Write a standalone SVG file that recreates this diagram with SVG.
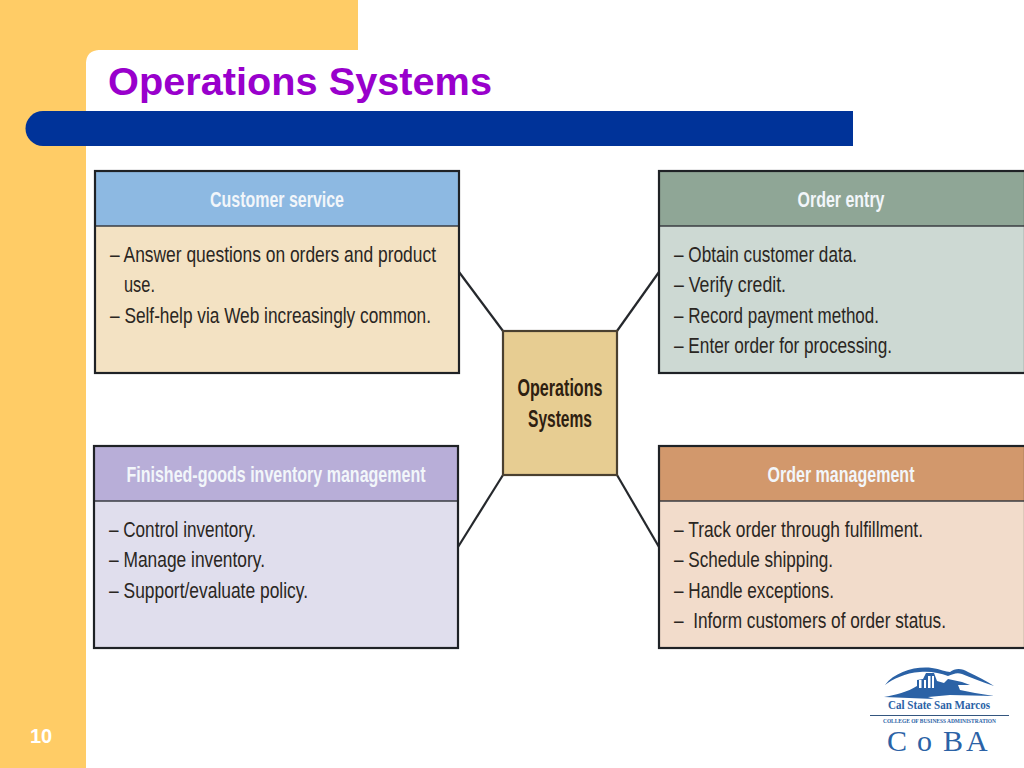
<svg xmlns="http://www.w3.org/2000/svg" width="1024" height="768" viewBox="0 0 1024 768">
<style>
text{font-family:"Liberation Sans",Arial,sans-serif}
.box{stroke:#1f2226;stroke-width:2.200;fill:none}
.div{stroke:#3a3d42;stroke-width:1.500}
.head{font-size:22px;font-weight:bold;fill:#f2f6fa;text-anchor:middle}
.body{font-size:22px;fill:#2a2622}
.conn{stroke:#25282c;stroke-width:2.200;fill:none}
.center{font-size:24px;font-weight:bold;fill:#2e2010;text-anchor:middle}
.logo{fill:#2b62a6;font-family:"Liberation Serif",serif}
</style>
<rect width="1024" height="768" fill="#fff"/>
<g id="background">
<rect x="0" y="0" width="358" height="50" fill="#ffcc66"/>
<rect x="0" y="0" width="86" height="768" fill="#ffcc66"/>
<rect x="86" y="50" width="12" height="12" fill="#ffcc66"/>
<path d="M86 64Q86 50 100 50H110V64Z" fill="#fff"/>
<path d="M43 111H853V146H43A17.500 17.500 0 0 1 43 111Z" fill="#003399"/>
</g>
<text x="108" y="95" font-size="38" font-weight="bold" fill="#9900cc" textLength="384" lengthAdjust="spacingAndGlyphs">Operations Systems</text>
<text x="30" y="743" font-size="20" font-weight="bold" fill="#ffffff">10</text>
<g id="connectors">
<line class="conn" x1="459" y1="272" x2="503" y2="331"/>
<line class="conn" x1="659" y1="272" x2="617" y2="331"/>
<line class="conn" x1="458" y1="547" x2="503" y2="475"/>
<line class="conn" x1="659" y1="547" x2="617" y2="475"/>
</g>
<g id="customer-service">
<rect x="95" y="171" width="364" height="55" fill="#8db9e2"/>
<rect x="95" y="226" width="364" height="147" fill="#f3e2c3"/>
<line class="div" x1="95" y1="226" x2="459" y2="226"/>
<rect class="box" x="95" y="171" width="364" height="202"/>
<text class="head" x="277" y="207" textLength="134" lengthAdjust="spacingAndGlyphs">Customer service</text>
<text class="body" x="110" y="262" textLength="326" lengthAdjust="spacingAndGlyphs">– Answer questions on orders and product</text>
<text class="body" x="124" y="292" textLength="31" lengthAdjust="spacingAndGlyphs">use.</text>
<text class="body" x="110" y="323" textLength="321" lengthAdjust="spacingAndGlyphs">– Self-help via Web increasingly common.</text>
</g>
<g id="order-entry">
<rect x="659" y="171" width="366" height="55" fill="#8fa696"/>
<rect x="659" y="226" width="366" height="147" fill="#cdd9d3"/>
<line class="div" x1="659" y1="226" x2="1025" y2="226"/>
<rect class="box" x="659" y="171" width="366" height="202"/>
<text class="head" x="841" y="207" textLength="87" lengthAdjust="spacingAndGlyphs">Order entry</text>
<text class="body" x="674" y="262" textLength="183" lengthAdjust="spacingAndGlyphs">– Obtain customer data.</text>
<text class="body" x="674" y="292" textLength="112" lengthAdjust="spacingAndGlyphs">– Verify credit.</text>
<text class="body" x="674" y="323" textLength="205" lengthAdjust="spacingAndGlyphs">– Record payment method.</text>
<text class="body" x="674" y="353" textLength="218" lengthAdjust="spacingAndGlyphs">– Enter order for processing.</text>
</g>
<g id="operations-systems">
<rect class="box" x="503" y="331" width="114" height="144" style="fill:#e7cd92;stroke:#4a4030"/>
<text class="center" x="560" y="396" textLength="85" lengthAdjust="spacingAndGlyphs">Operations</text>
<text class="center" x="560" y="427" textLength="64" lengthAdjust="spacingAndGlyphs">Systems</text>
</g>
<g id="inventory">
<rect x="94" y="446" width="364" height="55" fill="#b8aed8"/>
<rect x="94" y="501" width="364" height="147" fill="#e0deed"/>
<line class="div" x1="94" y1="501" x2="458" y2="501"/>
<rect class="box" x="94" y="446" width="364" height="202"/>
<text class="head" x="276" y="482" textLength="299" lengthAdjust="spacingAndGlyphs">Finished-goods inventory management</text>
<text class="body" x="109" y="537" textLength="147" lengthAdjust="spacingAndGlyphs">– Control inventory.</text>
<text class="body" x="109" y="567" textLength="156" lengthAdjust="spacingAndGlyphs">– Manage inventory.</text>
<text class="body" x="109" y="598" textLength="199" lengthAdjust="spacingAndGlyphs">– Support/evaluate policy.</text>
</g>
<g id="order-management">
<rect x="659" y="446" width="366" height="55" fill="#d2986c"/>
<rect x="659" y="501" width="366" height="147" fill="#f2dccb"/>
<line class="div" x1="659" y1="501" x2="1025" y2="501"/>
<rect class="box" x="659" y="446" width="366" height="202"/>
<text class="head" x="841" y="482" textLength="147" lengthAdjust="spacingAndGlyphs">Order management</text>
<text class="body" x="674" y="537" textLength="249" lengthAdjust="spacingAndGlyphs">– Track order through fulfillment.</text>
<text class="body" x="674" y="567" textLength="159" lengthAdjust="spacingAndGlyphs">– Schedule shipping.</text>
<text class="body" x="674" y="598" textLength="160" lengthAdjust="spacingAndGlyphs">– Handle exceptions.</text>
<text class="body" x="674" y="628" textLength="272" lengthAdjust="spacingAndGlyphs" xml:space="preserve">–  Inform customers of order status.</text>
</g>
<g id="logo">
<path d="M885 685C895 672 915 666 932 668C940 669 946 672 950 672C955 668 962 668 968 672C978 677 987 681 994 686C982 682 972 678 962 674C957 672 953 674 948 676C940 673 930 671 920 672C905 673 893 679 885 685Z" fill="#2b62a6"/>
<path d="M884 697C895 695 908 692 917 686L917 680L923 679L926 673L934 673L937 681L944 683L948 679L962 682L970 685L958 685L960 690L975 693L994 696L950 695L928 697L934 699Z" fill="#2b62a6"/>
<rect x="919" y="680" width="2.500" height="8" fill="#fff"/><rect x="924" y="680" width="2" height="8" fill="#fff"/><rect x="928" y="676" width="2.500" height="12" fill="#fff"/><rect x="932" y="676" width="2" height="12" fill="#fff"/>
<text class="logo" x="888" y="709" font-size="12.500" font-weight="bold" textLength="102" lengthAdjust="spacingAndGlyphs" fill="#4a6f9e">Cal State San Marcos</text>
<line x1="870" y1="715.500" x2="1009" y2="715.500" stroke="#34567f" stroke-width="1"/>
<text class="logo" x="883" y="723" font-size="7" font-weight="bold" textLength="113" lengthAdjust="spacingAndGlyphs">COLLEGE OF BUSINESS ADMINISTRATION</text>
<text class="logo" x="887 917 943 966" y="751" font-size="30">CoBA</text>
</g>
</svg>
